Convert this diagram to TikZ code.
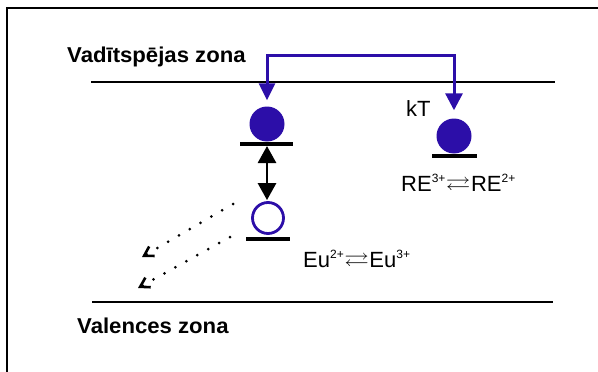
\documentclass[tikz,border=0pt]{standalone}
\usepackage{amssymb}
\usepackage{fontspec}
\usepackage{graphicx}
\setmainfont{Liberation Sans}
\usetikzlibrary{arrows.meta}
\definecolor{elblue}{RGB}{44,14,168}
\newcommand{\eqarrow}{\hspace{0.5pt}\raisebox{1pt}{\scalebox{1.12}[0.9]{$\rightleftarrows$}}\hspace{0.5pt}}
\newcommand{\chg}[1]{\raisebox{8.5pt}{\fontsize{12}{12}\selectfont #1}}
\tikzset{
  band/.style={line width=2.8pt},
  levelbar/.style={line width=3.8pt},
  electron/.style={circle,fill=elblue,inner sep=0pt,minimum size=35pt},
  hole/.style={circle,draw=elblue,line width=2.8pt,inner sep=0pt,minimum size=31pt},
  hop/.style={draw=elblue,line width=3pt,
    {Triangle[length=17pt,width=16pt]}-{Triangle[length=17pt,width=17pt]}},
  exch/.style={line width=2.8pt,
    {Triangle[length=17pt,width=18pt]}-{Triangle[length=17pt,width=18pt]}},
  decay/.style={line width=3pt,line cap=round,dash pattern=on 0pt off 12.5pt,
    -{Straight Barb[length=9pt,width=11pt,line width=2.6pt]}},
  zonelabel/.style={anchor=base west,inner sep=0pt,font=\bfseries\fontsize{21.5}{24}\selectfont},
  txt/.style={anchor=base west,inner sep=0pt,font=\fontsize{22}{24}\selectfont},
}
\begin{document}
\begin{tikzpicture}[x=1pt,y=-1pt]
\useasboundingbox (0,0) rectangle (598,372);
% outer frame
\draw[line width=2.8pt] (7,373) -- (7,8) -- (599,8);

% band edges
\draw[band] (91,82) -- (555,82);
\draw[band] (92,302) -- (553,302);
\node[zonelabel] (cb) at (67,62) {\scalebox{1.03}[1]{Vadītspējas zona}};
\node[zonelabel] (vb) at (77,333) {\scalebox{1.03}[1]{Valences zona}};

% Eu level: trapped electron and hole
\node[electron] (eu) at (267,124) {};
\draw[levelbar] (240,144) -- (293,144);
\coordinate (eulevel) at (267,144);
\node[hole] (h) at (268,218) {};
\draw[levelbar] (246,239) -- (290,239);
\draw[exch,shorten <=2pt,shorten >=1pt] (eulevel) -- (eulevel |- h.north);

% RE trap level
\node[electron] (re) at (454,136) {};
\draw[levelbar] (432,156) -- (477,156);

% thermal transfer through the conduction band
\coordinate (over) at (0,55);
\draw[hop,shorten <=6pt,shorten >=8pt]
  (eu.north) -- (eu.north |- over) -- (re.north |- over) -- (re.north);
\node[txt] (kt) at (406,116) {kT};

% radiative decay towards the valence band
\coordinate (d1s) at (233,204);
\coordinate (d1e) at (142,257);
\coordinate (d2s) at (230,237);
\coordinate (d2e) at (138,288);
\draw[decay] (d1s) -- (d1e);
\draw[decay] (d2s) -- (d2e);

% valence change labels
\node[txt] (eutxt) at (303,267) {Eu\chg{2+}\eqarrow Eu\chg{3+}};
\node[txt] (retxt) at (401,191) {RE\chg{3+}\eqarrow RE\chg{2+}};
\end{tikzpicture}
\end{document}
